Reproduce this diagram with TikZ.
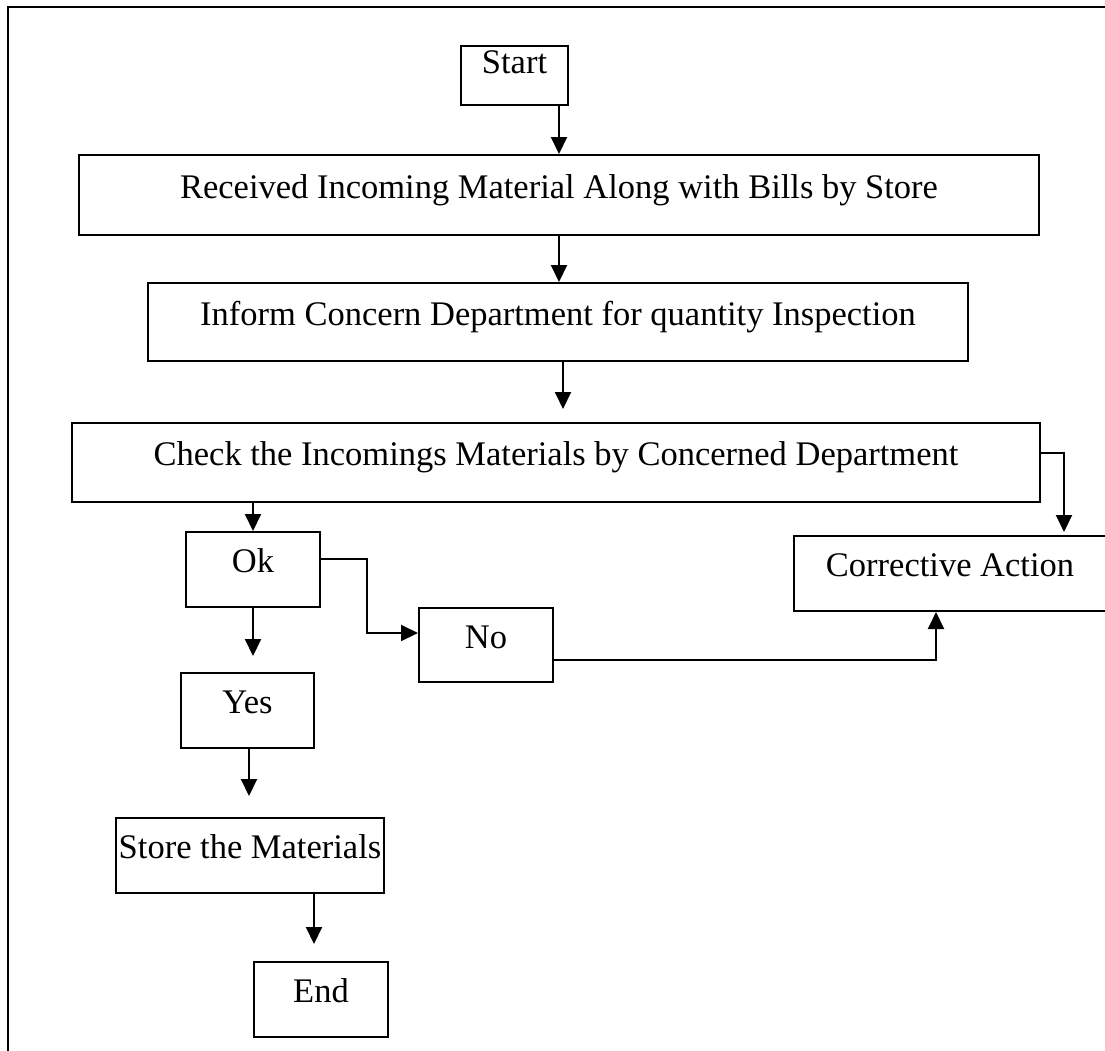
\documentclass[tikz,border=0pt]{standalone}
\usepackage{fontspec}
\setmainfont{Liberation Serif}
\usepackage{tikz}
\usetikzlibrary{arrows.meta}

\tikzset{
	flowbox/.style={rectangle, draw, line width=2pt, inner sep=0pt,
		text height=24pt, text depth=18pt,
		font=\fontsize{34.5}{40}\selectfont},
	flowarrow/.style={line width=2pt, -{Triangle[length=17pt, width=16pt]}}
}

\begin{document}
\begin{tikzpicture}[x=1pt, y=-1pt]

		\useasboundingbox (0,0) rectangle (1105,1050);

		% Marco
		\draw[line width=2pt] (8,1052) -- (8,7) -- (1107,7);

		% Nodos
		\node[flowbox, text depth=28pt, minimum width=107pt, minimum height=59pt] (start) at (514.5,75.5) {Start};
		\node[flowbox, minimum width=960pt, minimum height=80pt] (received) at (559,195) {Received Incoming Material Along with Bills by Store};
		\node[flowbox, minimum width=820pt, minimum height=78pt] (inform) at (558,322) {Inform Concern Department for quantity Inspection};
		\node[flowbox, minimum width=968pt, minimum height=79pt] (check) at (556,462.5) {Check the Incomings Materials by Concerned Department};
		\node[flowbox, minimum width=312pt, minimum height=75pt] (corrective) at (950,573.5) {Corrective Action};
		\node[flowbox, minimum width=134pt, minimum height=75pt] (ok) at (253,569.5) {Ok};
		\node[flowbox, minimum width=134pt, minimum height=74pt] (no) at (486,645) {No};
		\node[flowbox, minimum width=133pt, minimum height=75pt] (yes) at (247.5,710.5) {Yes};
		\node[flowbox, minimum width=268pt, minimum height=75pt] (store) at (250,855.5) {Store the Materials};
		\node[flowbox, minimum width=134pt, minimum height=75pt] (endnode) at (321,999.5) {End};

		% Aristas
		\draw[flowarrow] (start.south -| received.north) -- (received.north);
		\draw[flowarrow] (received.south) -- (received.south |- inform.north);
		\draw[flowarrow, shorten >=13pt] ([xshift=5]inform.south) -- ([xshift=5]inform.south |- check.north);
		\draw[flowarrow, shorten >=3pt] ([yshift=10]check.east) -| ([xshift=114]corrective.north);
		\draw[flowarrow] (check.south -| ok.north) -- (ok.north);
		\draw[flowarrow] ([yshift=11]ok.east) -| ([xshift=-51,yshift=12]no.west) -- ([yshift=12]no.west);
		\draw[flowarrow] ([yshift=-15]no.east) -| ([xshift=-14]corrective.south);
		\draw[flowarrow, shorten >=16pt] (ok.south) -- (ok.south |- yes.north);
		\draw[flowarrow, shorten >=21pt] ([xshift=1.5]yes.south) -- ([xshift=1.5]yes.south |- store.north);
		\draw[flowarrow, shorten >=17pt] ([xshift=64]store.south) -- ([xshift=64]store.south |- endnode.north);

	\end{tikzpicture}
\end{document}
